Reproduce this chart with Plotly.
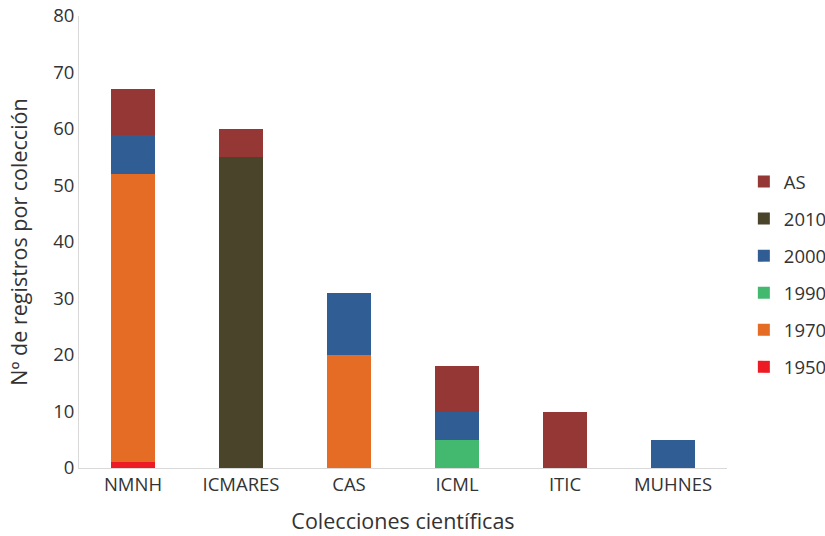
import plotly.graph_objects as go

categories = ["NMNH", "ICMARES", "CAS", "ICML", "ITIC", "MUHNES"]
series_names = ["1950", "1970", "1990", "2000", "2010", "AS"]
v1950 = [1, 0, 0, 0, 0, 0]
v1970 = [51, 0, 20, 0, 0, 0]
v1990 = [0, 0, 0, 5, 0, 0]
v2000 = [7, 0, 11, 5, 0, 5]
v2010 = [0, 55, 0, 0, 0, 0]
vAS = [8, 5, 0, 8, 10, 0]
colors = ["#ED1C24", "#E46C24", "#43B96F", "#2F5D94", "#4A452A", "#953735"]

values = [v1950, v1970, v1990, v2000, v2010, vAS]

fig = go.Figure()
n = len(series_names)
for i, (name, vals, col) in enumerate(zip(series_names, values, colors)):
    fig.add_trace(go.Bar(x=categories, y=vals, name=name, marker_color=col,
                         marker_line_width=0, legendgroup=name, width=0.4,
                         legendrank=n - i))

font_family = "Open Sans, Noto Sans, sans-serif"
fig.update_layout(
    barmode="stack",
    width=825, height=536,
    margin=dict(l=79, r=98, t=16, b=68, autoexpand=False),
    plot_bgcolor="white", paper_bgcolor="white",
    font=dict(family=font_family, size=18.5, color="#333333"),
    legend=dict(traceorder="grouped", x=1.026, xanchor="left", y=0.428, yanchor="middle",
                tracegroupgap=10, font=dict(size=18.5, color="#333333"),
                itemwidth=30),
    showlegend=True,
)
fig.update_xaxes(
    title=dict(text="Colecciones científicas", font=dict(size=21.5), standoff=18),
    showline=True, linecolor="#D9D9D9", linewidth=1, ticks="", showgrid=False,
    tickfont=dict(size=18.5),
)
fig.update_yaxes(
    title=dict(text="Nº de registros por colección", font=dict(size=21.5), standoff=19),
    range=[0, 80], dtick=10, showline=True, linecolor="#D9D9D9", linewidth=1,
    ticks="", showgrid=False, zeroline=False, tickfont=dict(size=18.5),
)
fig.write_html("out.html")
